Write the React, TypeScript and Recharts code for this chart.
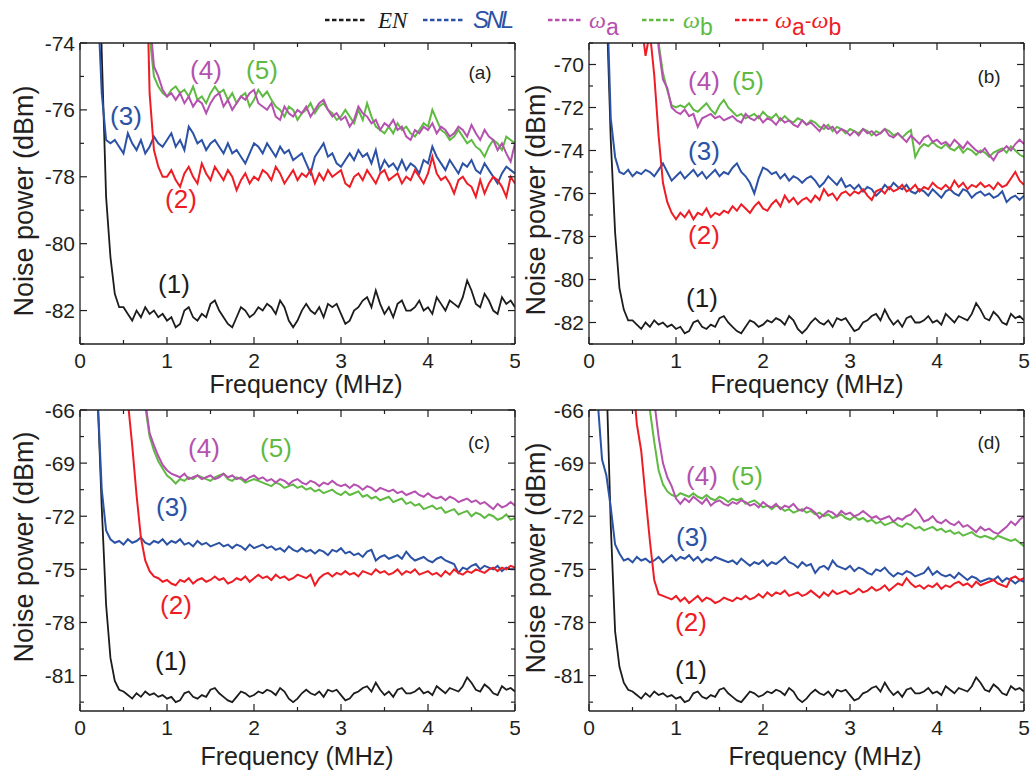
import React from "react";
import { LineChart, Line, XAxis, YAxis } from "recharts";

// sweep frequencies (MHz)
const FREQ = [
  0.1, 0.15, 0.2, 0.25, 0.3, 0.35, 0.4, 0.45, 0.5, 0.55,
  0.6, 0.65, 0.7, 0.75, 0.8, 0.85, 0.9, 0.95, 1.0, 1.05,
  1.1, 1.15, 1.2, 1.25, 1.3, 1.35, 1.4, 1.45, 1.5, 1.55,
  1.6, 1.65, 1.7, 1.75, 1.8, 1.85, 1.9, 1.95, 2.0, 2.05,
  2.1, 2.15, 2.2, 2.25, 2.3, 2.35, 2.4, 2.45, 2.5, 2.55,
  2.6, 2.65, 2.7, 2.75, 2.8, 2.85, 2.9, 2.95, 3.0, 3.05,
  3.1, 3.15, 3.2, 3.25, 3.3, 3.35, 3.4, 3.45, 3.5, 3.55,
  3.6, 3.65, 3.7, 3.75, 3.8, 3.85, 3.9, 3.95, 4.0, 4.05,
  4.1, 4.15, 4.2, 4.25, 4.3, 4.35, 4.4, 4.45, 4.5, 4.55,
  4.6, 4.65, 4.7, 4.75, 4.8, 4.85, 4.9, 4.95, 5.0,
];

const X_TICKS = [0, 0.5, 1, 1.5, 2, 2.5, 3, 3.5, 4, 4.5, 5];
const X_LABELS = [0, 1, 2, 3, 4, 5];

// electronic noise, same trace in every panel (0.5 .. 5 MHz)
const EN_TAIL = [
  -81.9, -82.1,
  -82.3, -82.0, -82.2, -81.9, -82.1, -82.0, -82.2, -82.1, -82.3, -82.2,
  -82.5, -82.4, -82.0, -81.9, -82.2, -82.3, -82.1, -82.2, -81.8, -81.7,
  -82.0, -82.2, -82.4, -82.5, -82.2, -81.9, -82.0, -82.2, -82.1, -81.9,
  -82.0, -81.8, -81.9, -82.1, -81.7, -81.9, -82.3, -82.5, -82.3, -82.0,
  -81.8, -82.0, -82.1, -81.9, -82.2, -81.8, -81.9, -81.8, -82.1, -82.4,
  -82.3, -82.0, -81.9, -81.7, -81.6, -81.9, -81.4, -81.8, -82.1, -81.9,
  -82.2, -81.8, -81.7, -82.0, -82.0, -81.9, -81.7, -82.0, -81.9, -82.1,
  -81.6, -81.8, -82.0, -81.7, -81.8, -81.9, -81.6, -81.1, -81.4, -81.8,
  -81.9, -81.5, -81.7, -82.0, -82.1, -81.6, -81.8, -81.7, -81.9,
];

// ---------- panel (a)
const A_EN_HEAD = [null, -62, -69, -74.3, -78.6, -80.4, -81.5, -81.9];
const A_SNL = [
  -60, -67, -72.5, -75.5, -76.9, -77.0, -76.9, -77.1, -77.3, -76.7,
  -77.0, -77.2, -76.9, -77.3, -77.1, -76.8, -77.0, -77.1, -76.9, -76.7,
  -77.1, -76.9, -77.2, -76.5, -76.7, -77.0, -76.9, -77.2, -77.0, -76.9,
  -77.1, -77.3, -77.0, -77.3, -77.2, -77.4, -77.6, -77.3, -77.0, -77.1,
  -77.3, -77.0, -77.2, -77.4, -77.1, -77.3, -77.2, -77.5, -77.4, -77.3,
  -77.6, -77.9, -77.4, -77.2, -77.0, -77.4, -77.3, -77.6, -77.7, -77.5,
  -77.3, -77.5, -77.2, -77.4, -77.3, -77.6, -77.2, -77.8, -77.5, -77.7,
  -77.6, -77.8, -77.5, -77.8, -77.6, -77.7, -77.9, -77.5, -77.6, -77.1,
  -77.4, -77.6, -77.8, -77.5, -77.7, -77.9, -77.6, -77.7, -77.5, -77.8,
  -77.9, -77.6, -77.8, -78.0, -78.2, -77.9, -77.7, -77.8, -77.9,
];
const A_WA = [
  null, null, null, null, null, null, null, null, null, null,
  null, null, null, -68, -73.2, -74.7, -75.0, -75.4, -75.6, -75.5,
  -75.7, -75.5, -75.8, -75.6, -75.9, -75.7, -75.8, -76.1, -75.8, -75.6,
  -75.5, -75.9, -75.7, -76.0, -75.8, -75.6, -75.7, -75.5, -75.4, -75.8,
  -75.9, -76.0, -75.8, -76.2, -76.3, -75.9, -76.1, -76.2, -76.0, -76.1,
  -75.9, -76.2, -76.0, -75.8, -75.7, -76.0, -76.2, -76.1, -76.3, -76.2,
  -76.5, -76.3, -75.9, -76.1, -76.2, -76.4, -76.3, -76.6, -76.4, -76.5,
  -76.3, -76.6, -76.5, -76.8, -76.9, -76.6, -76.7, -76.5, -76.6, -76.4,
  -76.7, -76.5, -76.6, -76.8, -76.7, -76.5, -76.6, -76.8, -76.45, -76.7,
  -76.9, -76.6, -76.8, -76.9, -77.2, -77.0, -77.3, -77.55, -77.0,
];
const A_WB = [
  null, null, null, null, null, null, null, null, null, null,
  null, null, null, -69, -73.8, -75.0, -75.3, -75.5, -75.6, -75.4,
  -75.3, -75.5, -75.4, -75.6, -75.3, -75.7, -75.6, -75.8, -75.5, -75.3,
  -75.5, -75.4, -75.7, -75.5, -75.8, -75.6, -75.5, -75.9, -75.7, -75.4,
  -75.6, -75.45, -75.7, -75.9, -76.0, -76.2, -75.9, -76.0, -76.3, -76.1,
  -76.0, -75.8, -76.1, -75.9, -75.8, -76.0, -76.1, -76.3, -76.2, -76.0,
  -76.2, -76.4, -76.0, -76.3, -75.8, -76.2, -76.5, -76.6, -76.7, -76.5,
  -76.7, -76.4, -76.6, -76.5, -76.7, -76.8, -76.6, -76.4, -76.5, -76.0,
  -76.3, -76.6, -76.7, -76.9, -76.8, -76.6, -76.8, -77.0, -76.9, -77.1,
  -77.2, -77.4, -77.1, -76.9, -77.0, -77.2, -76.8, -76.9, -77.0,
];
const A_WAB = [
  null, null, null, null, null, null, null, null, null, null,
  null, null, null, -70, -75.5, -77.2, -77.7, -78.0, -78.0, -77.8,
  -78.1, -78.3, -77.9, -77.7, -78.0, -78.2, -77.6, -77.9, -78.1, -77.7,
  -77.9, -78.1, -77.8, -78.0, -78.4, -78.1, -77.9, -78.2, -78.0, -78.1,
  -77.8, -77.9, -78.1, -77.7, -77.9, -78.2, -78.0, -77.8, -78.1, -77.9,
  -78.0, -77.8, -78.2, -77.9, -78.1, -77.8, -78.0, -77.9, -77.8, -78.2,
  -78.3, -78.0, -77.9, -78.1, -77.8, -78.0, -78.2, -77.9, -77.8, -78.1,
  -78.0, -77.9, -78.2, -78.0, -78.1, -77.8, -78.0, -78.2, -77.9, -77.4,
  -77.9, -78.1, -78.0, -78.2, -78.5, -78.1, -78.0, -78.2, -78.3, -78.6,
  -78.1, -78.5, -78.2, -78.0, -78.1, -78.3, -78.6, -78.0, -78.2,
];

// ---------- panel (b)
const B_EN_HEAD = [null, -60, -67, -73.5, -77.8, -80.4, -81.4, -81.9];
const B_SNL = [
  null, -58, -66, -72.5, -74.3, -75.0, -75.1, -74.9, -75.2, -75.0,
  -75.1, -74.9, -75.0, -75.2, -74.9, -74.6, -75.0, -75.4, -75.2, -75.0,
  -75.3, -75.1, -74.9, -75.2, -75.0, -75.3, -75.1, -74.9, -75.2, -75.0,
  -75.1, -74.8, -74.6, -75.0, -75.2, -75.5, -76.0, -75.3, -74.8, -74.9,
  -75.1, -75.0, -75.3, -75.1, -75.4, -75.2, -75.3, -75.5, -75.3, -75.2,
  -75.4, -75.7, -75.5, -75.2, -75.4, -75.6, -75.3, -75.7, -75.6, -75.8,
  -75.6, -75.9, -75.7, -75.8, -76.1, -75.9, -75.6, -75.8, -75.5, -75.7,
  -75.8, -75.6, -75.9, -76.0, -75.8, -75.9, -76.1, -75.8, -76.0, -76.2,
  -75.9, -75.8, -76.0, -76.1, -75.8, -75.9, -76.2, -76.0, -75.9, -76.1,
  -76.0, -76.2, -76.1, -75.9, -76.4, -76.2, -76.1, -76.3, -76.1,
];
const B_WA = [
  null, null, null, null, null, null, null, null, null, null,
  null, null, null, -66, -69.2, -70.7, -71.1, -72.0, -72.2, -72.3,
  -72.1, -72.4, -72.3, -72.9, -72.5, -72.4, -72.3, -72.5, -72.4, -72.6,
  -72.5, -72.4, -72.6, -72.7, -72.3, -72.5, -72.6, -72.4, -72.7, -72.5,
  -72.6, -72.8, -72.5, -72.7, -72.6, -72.8, -72.9, -72.6, -72.8, -72.7,
  -72.9, -73.1, -72.8, -73.0, -72.9, -73.2, -73.0, -73.1, -73.3, -73.1,
  -73.3, -73.0, -73.2, -73.1, -73.3, -73.2, -73.0, -73.3, -73.4, -73.2,
  -73.4, -73.6, -73.3, -73.5, -73.7, -73.4, -73.3, -73.6, -73.5, -73.7,
  -73.6, -73.8, -73.5, -73.7, -73.9, -73.6, -73.8, -74.0, -74.1, -73.9,
  -74.2, -74.45, -74.1, -74.0, -73.8, -74.0, -73.7, -73.5, -73.7,
];
const B_WB = [
  null, null, null, null, null, null, null, null, null, null,
  null, null, null, -66.5, -69.0, -70.4, -71.2, -71.9, -72.0, -71.9,
  -72.0, -71.8, -72.1, -72.2, -72.0, -71.8, -72.1, -72.3, -71.9, -71.65,
  -72.0, -72.2, -72.4, -72.3, -72.5, -72.4, -72.3, -72.5, -72.2, -72.4,
  -72.5, -72.3, -72.6, -72.4, -72.6, -72.7, -72.5, -72.6, -72.8, -72.6,
  -72.7, -72.9, -73.0, -72.8, -73.1, -72.9, -73.0, -73.2, -73.0, -73.1,
  -73.2, -73.0, -73.1, -73.3, -73.1, -73.2, -73.0, -73.1, -73.3, -73.2,
  -73.4, -73.2, -73.05, -74.3, -73.9, -73.7, -73.8, -73.6, -73.8, -73.9,
  -73.7, -73.9, -74.0, -73.8, -74.1, -73.9, -74.0, -74.2, -74.0, -74.1,
  -74.3, -74.1, -74.0, -73.9, -74.1, -73.8, -74.0, -74.2, -74.3,
];
const B_WAB = [
  null, null, null, null, null, null, null, null, null, null,
  -68, -69.6, -68.5, -70.5, -73.3, -75.5, -76.4, -76.9, -77.2, -76.9,
  -77.1, -76.8, -77.2, -76.9, -77.0, -76.7, -77.1, -76.9, -77.0, -76.8,
  -76.9, -76.6, -76.8, -76.5, -76.7, -76.9, -76.6, -76.4, -76.7, -76.8,
  -76.5, -76.3, -76.6, -76.1, -76.4, -76.2, -76.5, -76.3, -76.2, -76.4,
  -76.1, -76.3, -75.8, -76.1, -76.0, -76.3, -76.0, -75.9, -76.1, -75.9,
  -76.0, -75.8, -76.1, -76.3, -75.9, -75.8, -76.0, -75.7, -75.9, -75.8,
  -75.6, -75.9, -75.8, -75.6, -75.9, -75.7, -75.8, -75.5, -75.7, -75.8,
  -75.6, -75.8, -75.4, -75.7, -75.5, -75.8, -75.6, -75.7, -75.5, -75.7,
  -75.6, -75.8, -75.5, -75.7, -75.6, -75.3, -75.0, -75.4, -75.6,
];

// ---------- panel (c)
const C_EN_HEAD = [null, -57, -65, -71.5, -77, -80, -81.3, -81.8];
const C_SNL = [
  null, -58, -65, -70.5, -72.8, -73.3, -73.5, -73.4, -73.6, -73.3,
  -73.5, -73.4, -73.2, -73.5, -73.6, -73.4, -73.5, -73.3, -73.6, -73.4,
  -73.5, -73.3, -73.6, -73.5, -73.7, -73.4, -73.6, -73.5, -73.7, -73.6,
  -73.5, -73.7, -73.6, -73.8, -73.6, -73.7, -73.9, -73.6, -73.8, -73.7,
  -73.6, -73.8, -73.7, -73.9, -73.8, -74.0, -73.7, -73.9, -74.0, -73.8,
  -74.0, -73.9, -74.1, -73.9, -74.0, -74.2, -73.9, -74.0, -73.8, -74.1,
  -74.0, -74.2, -74.1, -74.3, -74.0, -73.9, -74.5, -74.3, -74.2, -74.4,
  -74.3, -74.2, -74.4, -74.0, -74.3, -74.5, -74.4, -74.3, -74.5, -74.6,
  -74.4, -74.3, -74.5, -74.6, -74.7, -75.2, -74.9, -75.0, -74.8, -74.7,
  -75.0, -74.8, -74.9, -75.0, -74.8, -75.1, -74.9, -75.0, -75.0,
];
const C_WA = [
  null, null, null, null, null, null, null, null, null, null,
  null, null, null, -65.5, -67.3, -68.0, -68.6, -69.1, -69.4, -69.6,
  -69.7, -69.8, -69.6, -69.9, -69.8, -69.7, -69.9, -69.8, -69.7, -69.9,
  -69.8, -69.6, -69.8, -69.7, -69.9, -69.8, -70.0, -69.8, -69.7, -69.9,
  -69.8, -70.0, -69.9, -70.1, -69.9, -70.0, -70.2, -70.0, -69.9, -70.1,
  -70.2, -70.0, -70.1, -70.3, -70.1, -70.2, -70.0, -70.2, -70.3, -70.2,
  -70.4, -70.2, -70.3, -70.5, -70.3, -70.4, -70.6, -70.4, -70.5, -70.6,
  -70.5, -70.7, -70.6, -70.8, -70.7, -70.6, -70.8, -70.9, -70.7, -70.9,
  -71.0, -70.9, -71.1, -70.9, -71.0, -71.2, -71.1, -71.0, -71.2, -71.1,
  -71.3, -71.2, -71.4, -71.6, -71.3, -71.5, -71.4, -71.2, -71.4,
];
const C_WB = [
  null, null, null, null, null, null, null, null, null, null,
  null, null, null, -65.8, -67.5, -68.3, -68.9, -69.3, -69.7, -69.9,
  -70.15, -69.9, -70.0, -69.8, -69.9, -69.7, -69.8, -69.9, -70.0, -69.8,
  -69.7, -69.6, -69.9, -70.0, -69.8, -69.9, -70.1, -70.0, -69.9, -70.0,
  -70.1, -70.2, -70.3, -70.1, -70.2, -70.4, -70.3, -70.2, -70.4, -70.3,
  -70.5, -70.4, -70.6, -70.5, -70.7, -70.6, -70.5, -70.7, -70.8, -70.6,
  -70.8, -70.7, -70.6, -70.9, -70.8, -71.0, -70.9, -71.1, -71.0, -70.9,
  -71.2, -71.1, -71.0, -71.3, -71.2, -71.4, -71.3, -71.6, -71.5, -71.4,
  -71.6, -71.5, -71.8, -71.7, -71.6, -71.9, -71.8, -71.7, -72.0, -71.8,
  -71.9, -72.1, -71.9, -72.0, -72.2, -72.1, -71.9, -72.2, -72.1,
];
const C_WAB = [
  null, null, null, null, null, null, null, null, -62, -65.5,
  -68.0, -70.8, -73.2, -74.5, -75.1, -75.4, -75.5, -75.7, -75.6, -75.8,
  -75.9, -75.6, -75.7, -75.5, -75.8, -75.6, -75.5, -75.7, -75.6, -75.4,
  -75.6, -75.5, -75.8, -75.7, -75.5, -75.6, -75.4, -75.7, -75.5, -75.3,
  -75.5, -75.4, -75.6, -75.3, -75.5, -75.4, -75.6, -75.5, -75.3, -75.4,
  -75.5, -75.3, -75.9, -75.5, -75.3, -75.2, -75.4, -75.2, -75.3, -75.1,
  -75.3, -75.2, -75.4, -75.1, -75.2, -75.3, -75.0, -75.2, -75.1, -75.3,
  -75.2, -75.0, -75.3, -75.1, -75.2, -75.0, -75.3, -75.2, -75.1, -75.3,
  -75.2, -75.4, -75.1, -75.3, -75.0, -75.2, -75.3, -75.1, -75.2, -75.0,
  -75.1, -75.2, -75.0, -74.9, -75.1, -74.9, -75.0, -74.8, -74.9,
];

// ---------- panel (d)
const D_EN_HEAD = [null, -56, -64, -72.5, -78.5, -80.5, -81.4, -81.8];
const D_SNL = [
  -65.5, -68.8, -69.7, -71.5, -73.6, -74.1, -74.5, -74.4, -74.6, -74.3,
  -74.5, -74.4, -74.6, -74.5, -74.3, -74.6, -74.4, -74.2, -74.5, -74.3,
  -74.4, -74.2, -74.5, -74.3, -74.6, -74.4, -74.5, -74.3, -74.4, -74.5,
  -74.6, -74.5, -74.7, -74.4, -74.6, -74.8, -74.6, -74.7, -74.5, -74.8,
  -74.6, -74.7, -74.5, -74.3, -74.6, -74.7, -74.9, -74.6, -74.8, -74.7,
  -75.2, -74.9, -74.8, -75.0, -74.5, -74.8, -74.9, -75.0, -74.8, -75.1,
  -74.9, -75.0, -75.2, -75.3, -75.0, -75.1, -74.9, -75.2, -75.4, -75.2,
  -75.3, -75.1, -75.2, -75.4, -75.3, -75.2, -74.9, -75.3, -75.1, -75.3,
  -75.4, -75.3, -75.5, -75.2, -75.4, -75.6, -75.4, -75.5, -75.7, -75.6,
  -75.5, -75.6, -75.4, -75.7, -75.5, -75.6, -75.8, -75.6, -75.7,
];
const D_WA = [
  null, null, null, null, null, null, null, null, null, null,
  null, null, null, -65.5, -67.5, -69.0, -69.8, -70.3, -71.0, -71.3,
  -71.0, -71.2, -70.9, -71.1, -71.3, -71.0, -71.4, -71.2, -71.1, -71.3,
  -71.4, -71.2, -71.3, -71.1, -71.2, -71.4, -71.3, -71.5, -71.2, -71.4,
  -71.5, -71.3, -71.6, -71.4, -71.5, -71.3, -71.6, -71.7, -71.5, -71.6,
  -71.8, -72.1, -71.9, -71.7, -71.8, -72.0, -71.7, -71.9, -71.8, -72.0,
  -71.9, -71.7, -71.9, -72.1, -72.0, -72.2, -72.1, -72.0, -72.3, -72.1,
  -72.2, -72.0, -71.9, -71.6, -71.9, -72.3, -72.2, -72.0, -72.3, -72.4,
  -72.2, -72.4, -72.5, -72.3, -72.6, -72.5, -72.7, -72.9, -72.6, -72.8,
  -72.7, -72.9, -73.0, -72.8, -72.6, -72.3, -72.5, -72.2, -72.0,
];
const D_WB = [
  null, null, null, null, null, null, null, null, null, null,
  null, -64.5, -66.0, -67.8, -69.4, -70.2, -70.6, -70.8, -70.9, -70.7,
  -70.8, -70.9, -70.7, -70.9, -71.0, -70.8, -71.0, -71.1, -70.9, -71.0,
  -71.2, -71.0, -71.1, -71.0, -71.3, -71.2, -71.1, -71.3, -71.5, -71.4,
  -71.6, -71.4, -71.5, -71.7, -71.6, -71.8, -71.7, -71.6, -71.8, -71.7,
  -71.9, -71.8, -72.0, -71.9, -72.1, -72.0, -71.9, -72.1, -72.2, -72.0,
  -72.2, -72.1, -72.3, -72.2, -72.4, -72.3, -72.5, -72.4, -72.3, -72.5,
  -72.6, -72.4, -72.5, -72.7, -72.6, -72.8, -72.7, -72.6, -72.8, -72.7,
  -72.9, -72.8, -73.0, -72.9, -73.1, -73.0, -72.9, -73.1, -73.2, -73.1,
  -73.2, -73.3, -73.1, -73.2, -73.3, -73.4, -73.3, -73.5, -73.7,
];
const D_WAB = [
  null, null, null, null, null, null, null, null, -64, -66.8,
  -68.3, -70.9, -73.4, -75.6, -76.4, -76.5, -76.6, -76.7, -76.5, -76.8,
  -76.6, -76.9, -76.7, -76.5, -76.8, -76.6, -76.7, -76.9, -76.8, -76.6,
  -76.7, -76.8, -76.6, -76.7, -76.5, -76.7, -76.6, -76.4, -76.6, -76.3,
  -76.5, -76.3, -76.4, -76.2, -76.5, -76.4, -76.3, -76.5, -76.4, -76.2,
  -76.4, -76.6, -76.3, -76.5, -76.2, -76.4, -76.3, -76.2, -76.4, -76.3,
  -76.1, -76.3, -76.2, -76.0, -76.2, -76.1, -75.9, -76.2, -76.0, -75.8,
  -75.9, -75.5, -75.8, -76.0, -75.9, -76.1, -75.9, -76.0, -75.8, -76.1,
  -75.9, -76.0, -75.8, -75.7, -75.9, -75.8, -76.0, -75.7, -75.9, -75.8,
  -75.7, -75.6, -75.8, -75.9, -76.0, -75.5, -75.4, -75.6, -75.5,
];

const AB_Y_TICKS = [-83, -82, -81, -80, -79, -78, -77, -76, -75, -74];
const A_Y_LABELS = [-82, -80, -78, -76, -74];
const B_Y_TICKS = [-83, -82, -81, -80, -79, -78, -77, -76, -75, -74, -73, -72, -71, -70, -69];
const B_Y_LABELS = [-82, -80, -78, -76, -74, -72, -70];
const CD_Y_TICKS = [-82.5, -81, -79.5, -78, -76.5, -75, -73.5, -72, -70.5, -69, -67.5, -66];
const CD_Y_LABELS = [-81, -78, -75, -72, -69, -66];

const COL = { en: "#1c1c1c", snl: "#2b52a4", wa: "#b551ae", wb: "#5fba42", wab: "#ee1d25" };
const INK = "#231f20";
const FONT = "'Liberation Sans', Arial, Helvetica, sans-serif";

function rows(en: (number | null)[], snl: (number | null)[], wa: (number | null)[], wb: (number | null)[], wab: (number | null)[]) {
  return FREQ.map((f, i) => ({ f, en: en[i] ?? null, snl: snl[i] ?? null, wa: wa[i] ?? null, wb: wb[i] ?? null, wab: wab[i] ?? null }));
}

function makeTick(side: string, labels: number[], showText: boolean) {
  return (props: any) => {
    const { x, y, payload } = props;
    const v = payload.value;
    const major = labels.includes(v);
    const len = major ? 7 : 4;
    const st = { stroke: INK, strokeWidth: 1.2 };
    if (side === "left")
      return (
        <g>
          <line x1={x} x2={x + len} y1={y} y2={y} {...st} />
          {showText && major && (
            <text x={x - 5} y={y + 7.5} textAnchor="end" fontFamily={FONT} fontSize={21} fill={INK}>{v}</text>
          )}
        </g>
      );
    if (side === "right") return <line x1={x} x2={x - len} y1={y} y2={y} {...st} />;
    if (side === "top") return <line x1={x} x2={x} y1={y} y2={y + len} {...st} />;
    return (
      <g>
        <line x1={x} x2={x} y1={y} y2={y - len} {...st} />
        {showText && major && (
          <text x={x} y={y + 24} textAnchor="middle" fontFamily={FONT} fontSize={21} fill={INK}>{v}</text>
        )}
      </g>
    );
  };
}

type PanelProps = {
  left: number; top: number; width: number; yWidth: number; rWidth: number;
  domain: [number, number]; yTicks: number[]; yLabels: number[]; data: any[];
};

const Panel: React.FC<PanelProps> = ({ left, top, width, yWidth, rWidth, domain, yTicks, yLabels, data }) => (
  <div style={{ position: "absolute", left, top }}>
    <LineChart width={width} height={400} data={data} margin={{ top: 42, right: 0, bottom: 0, left: 0 }}>
      <XAxis xAxisId="b" dataKey="f" type="number" domain={[0, 5]} ticks={X_TICKS} interval={0} allowDataOverflow
        height={56} tickSize={0} tickMargin={0} tickLine={false} axisLine={{ stroke: INK, strokeWidth: 1.3 }}
        tick={makeTick("bottom", X_LABELS, true)} />
      <XAxis xAxisId="t" dataKey="f" orientation="top" type="number" domain={[0, 5]} ticks={X_TICKS} interval={0} allowDataOverflow
        height={1} tickSize={0} tickMargin={0} tickLine={false} axisLine={{ stroke: INK, strokeWidth: 1.3 }}
        tick={makeTick("top", X_LABELS, false)} />
      <YAxis yAxisId="l" type="number" domain={domain} ticks={yTicks} interval={0} allowDataOverflow
        width={yWidth} tickSize={0} tickMargin={0} tickLine={false} axisLine={{ stroke: INK, strokeWidth: 1.3 }}
        tick={makeTick("left", yLabels, true)} />
      <YAxis yAxisId="r" dataKey="en" orientation="right" type="number" domain={domain} ticks={yTicks} interval={0} allowDataOverflow
        width={rWidth} tickSize={0} tickMargin={0} tickLine={false} axisLine={{ stroke: INK, strokeWidth: 1.3 }}
        tick={makeTick("right", yLabels, false)} />
      <Line xAxisId="b" yAxisId="l" type="linear" dataKey="en" stroke={COL.en} strokeWidth={1.8} dot={false} isAnimationActive={false} />
      <Line xAxisId="b" yAxisId="l" type="linear" dataKey="snl" stroke={COL.snl} strokeWidth={2} dot={false} isAnimationActive={false} />
      <Line xAxisId="b" yAxisId="l" type="linear" dataKey="wab" stroke={COL.wab} strokeWidth={2} dot={false} isAnimationActive={false} />
      <Line xAxisId="b" yAxisId="l" type="linear" dataKey="wb" stroke={COL.wb} strokeWidth={2} dot={false} isAnimationActive={false} />
      <Line xAxisId="b" yAxisId="l" type="linear" dataKey="wa" stroke={COL.wa} strokeWidth={2} dot={false} isAnimationActive={false} />
    </LineChart>
  </div>
);

// curve tags: [text, colour key, x, baseline]
const TAGS: [string, keyof typeof COL, number, number][] = [
  ["(4)", "wa", 206, 79], ["(5)", "wb", 262, 79], ["(3)", "snl", 126, 125], ["(2)", "wab", 181, 208], ["(1)", "en", 174, 293],
  ["(4)", "wa", 704, 90], ["(5)", "wb", 748, 90], ["(3)", "snl", 704, 160], ["(2)", "wab", 704, 244], ["(1)", "en", 702, 307],
  ["(4)", "wa", 204, 457], ["(5)", "wb", 276, 457], ["(3)", "snl", 172, 516], ["(2)", "wab", 176, 614], ["(1)", "en", 171, 670],
  ["(4)", "wa", 702, 485], ["(5)", "wb", 747, 485], ["(3)", "snl", 692, 546], ["(2)", "wab", 691, 631], ["(1)", "en", 691, 679],
];
const LETTERS: [string, number, number][] = [["(a)", 480, 79], ["(b)", 989, 83], ["(c)", 479, 449], ["(d)", 989, 449]];
const Y_TITLES: [number, number][] = [[24, 201], [536, 200], [24, 547], [536, 558]];
const X_TITLES: [number, number][] = [[306, 393], [807, 393], [297, 765], [825, 765]];

const SERIF = "'Liberation Serif', 'Times New Roman', serif";

const Overlay: React.FC = () => (
  <svg width={1031} height={774} style={{ position: "absolute", left: 0, top: 0, pointerEvents: "none" }}>
    {/* legend */}
    <line x1={325} x2={366} y1={20} y2={20} stroke={COL.en} strokeWidth={2.5} strokeDasharray="4.5 2.5" />
    <text x={378} y={28} fontFamily={SERIF} fontStyle="italic" fontSize={23} fill={COL.en}>EN</text>
    <line x1={423} x2={464} y1={20} y2={20} stroke={COL.snl} strokeWidth={2.5} strokeDasharray="4.5 2.5" />
    <text x={473} y={28} fontFamily={FONT} fontStyle="italic" fontSize={24} fill={COL.snl} textLength={41}>SNL</text>
    <line x1={548} x2={581} y1={20} y2={20} stroke={COL.wa} strokeWidth={2.5} strokeDasharray="4.5 2.5" />
    <text x={589} y={28} fontSize={24} fill={COL.wa}>
      <tspan fontFamily={SERIF} fontStyle="italic">ω</tspan>
      <tspan fontFamily={FONT} fontSize={23} dy={7}>a</tspan>
    </text>
    <line x1={642} x2={674} y1={20} y2={20} stroke={COL.wb} strokeWidth={2.5} strokeDasharray="4.5 2.5" />
    <text x={683} y={28} fontSize={24} fill={COL.wb}>
      <tspan fontFamily={SERIF} fontStyle="italic">ω</tspan>
      <tspan fontFamily={FONT} fontSize={23} dy={7}>b</tspan>
    </text>
    <line x1={735} x2={768} y1={20} y2={20} stroke={COL.wab} strokeWidth={2.5} strokeDasharray="4.5 2.5" />
    <text x={775} y={28} fontSize={24} fill={COL.wab}>
      <tspan fontFamily={SERIF} fontStyle="italic">ω</tspan>
      <tspan fontFamily={FONT} fontSize={23} dy={7}>a</tspan>
      <tspan fontFamily={FONT} fontSize={20} dy={-7}>-</tspan>
      <tspan fontFamily={SERIF} fontStyle="italic">ω</tspan>
      <tspan fontFamily={FONT} fontSize={23} dy={7}>b</tspan>
    </text>

    {TAGS.map(([t, c, x, y], i) => (
      <text key={"t" + i} x={x} y={y} textAnchor="middle" fontFamily={FONT} fontSize={26} fill={COL[c]}>{t}</text>
    ))}
    {LETTERS.map(([t, x, y]) => (
      <text key={t} x={x} y={y} textAnchor="middle" fontFamily={FONT} fontSize={19} fill={INK}>{t}</text>
    ))}
    {Y_TITLES.map(([x, y], i) => (
      <text key={"y" + i} x={x} y={y} transform={`rotate(-90 ${x} ${y})`} textAnchor="middle" dominantBaseline="central"
        fontFamily={FONT} fontSize={27} fill={INK}>Noise power (dBm)</text>
    ))}
    {X_TITLES.map(([x, y], i) => (
      <text key={"x" + i} x={x} y={y} textAnchor="middle" fontFamily={FONT} fontSize={25} fill={INK}>Frequency (MHz)</text>
    ))}
  </svg>
);

export default function App() {
  const dataA = rows([...A_EN_HEAD, ...EN_TAIL], A_SNL, A_WA, A_WB, A_WAB);
  const dataB = rows([...B_EN_HEAD, ...EN_TAIL], B_SNL, B_WA, B_WB, B_WAB);
  const dataC = rows([...C_EN_HEAD, ...EN_TAIL], C_SNL, C_WA, C_WB, C_WAB);
  const dataD = rows([...D_EN_HEAD, ...EN_TAIL], D_SNL, D_WA, D_WB, D_WAB);
  return (
    <div style={{ position: "absolute", left: 0, top: 0, width: 1031, height: 774, background: "#fff" }}>
      <Panel left={0} top={0} width={520} yWidth={80} rWidth={5} domain={[-83, -74]} yTicks={AB_Y_TICKS} yLabels={A_Y_LABELS} data={dataA} />
      <Panel left={520} top={0} width={511} yWidth={69} rWidth={7} domain={[-83, -69]} yTicks={B_Y_TICKS} yLabels={B_Y_LABELS} data={dataB} />
      <Panel left={0} top={367} width={520} yWidth={80} rWidth={5} domain={[-83, -66]} yTicks={CD_Y_TICKS} yLabels={CD_Y_LABELS} data={dataC} />
      <Panel left={520} top={367} width={511} yWidth={69} rWidth={7} domain={[-83, -66]} yTicks={CD_Y_TICKS} yLabels={CD_Y_LABELS} data={dataD} />
      <Overlay />
    </div>
  );
}
